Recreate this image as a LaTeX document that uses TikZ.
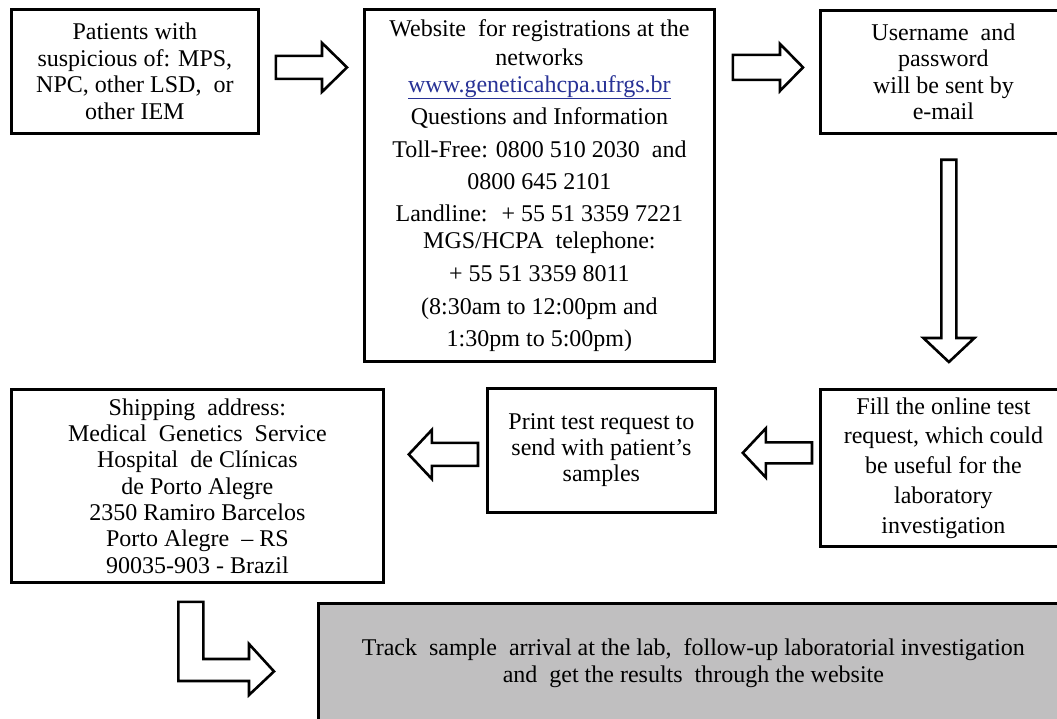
\documentclass[tikz,border=0pt]{standalone}
\usepackage{fontspec}
\setmainfont{Liberation Serif}
\usetikzlibrary{calc}
\definecolor{urlblue}{RGB}{40,50,150}
\definecolor{boxgray}{RGB}{192,191,192}
\newcommand\blockarrow[5]{%
  \path ($(#2)!#5!(#1)$) coordinate (bah);
  \draw[barrow] ($(#1)!#3!90:(#2)$) -- ($(bah)!#3!90:(#2)$) -- ($(bah)!#4!90:(#2)$) -- (#2)
    -- ($(bah)!#4!-90:(#2)$) -- ($(bah)!#3!-90:(#2)$) -- ($(#1)!#3!-90:(#2)$) -- cycle;}
\tikzset{
  box/.style={draw, line width=2.8pt, align=center, inner sep=0pt, anchor=north west},
  barrow/.style={draw, line width=2.6pt, fill=white, line join=miter},
}
\begin{document}
\begin{tikzpicture}[x=1pt,y=-1pt]
\useasboundingbox (0,0) rectangle (1057,719);
\clip (0,0) rectangle (1057,719);
\fill[white] (0,0) rectangle (1057,719);

\node[box, minimum width=247, minimum height=124, font=\fontsize{24}{26.7}\selectfont] (pat) at (10,8)
  {Patients with\\ suspicious of: MPS,\\ NPC, other LSD, \ or\\ other IEM};

\node[box, minimum width=350, minimum height=352, font=\fontsize{24}{23}\selectfont] (web) at (363,8)
  {Website \ for registrations at the\\[6pt]
   networks\\[4pt]
   {\color{urlblue}\underline{www.geneticahcpa.ufrgs.br}}\\[7.7pt]
   Questions and Information\\[9.6pt]
   Toll-Free: 0800 510 2030 \ and\\[9.4pt]
   0800 645 2101\\[8.6pt]
   Landline: \ + 55 51 3359 7221\\[3.7pt]
   MGS/HCPA \ telephone:\\[10.3pt]
   + 55 51 3359 8011\\[10.4pt]
   (8:30am to 12:00pm and\\[8.6pt]
   1:30pm to 5:00pm)};

\node[box, minimum width=246, minimum height=123, font=\fontsize{24}{26.3}\selectfont] (user) at (819,9)
  {Username \ and\\ password\\ will be sent by\\ e-mail};

\node[box, minimum width=246, minimum height=157, font=\fontsize{24}{29.75}\selectfont] (fill) at (819,388)
  {Fill the online test\\ request, which could\\ be useful for the\\ laboratory\\ investigation};

\node[box, minimum width=228, minimum height=124, font=\fontsize{24}{26}\selectfont] (print) at (486,387)
  {Print test request to\\ send with patient's\\ samples};

\node[box, minimum width=372, minimum height=193, font=\fontsize{24}{26.3}\selectfont] (ship) at (10,388)
  {Shipping \ address:\\ Medical \ Genetics \ Service\\ Hospital \ de Clínicas\\ de Porto Alegre\\
   2350 Ramiro Barcelos\\ Porto Alegre \ -- RS\\ 90035-903 - Brazil};

\node[box, fill=boxgray, minimum width=750, minimum height=120, font=\fontsize{24}{27}\selectfont] (track) at (317,602)
  {Track \ sample \ arrival at the lab, \ follow-up laboratorial investigation\\
   and \ get the results \ through the website};

% block arrows
\coordinate (a1s) at ($(pat.east)+(16,-4)$);
\coordinate (a1e) at ($(web.west |- a1s)+(-16,0)$);
\blockarrow{a1s}{a1e}{11.5pt}{24.5pt}{25pt}

\coordinate (a2s) at ($(web.east |- a1s)+(17,0)$);
\coordinate (a2e) at ($(user.west |- a1s)+(-16,0)$);
\blockarrow{a2s}{a2e}{12.5pt}{23.5pt}{23pt}

\coordinate (a3s) at ($(user.south)+(5.5,25)$);
\coordinate (a3e) at ($(fill.north -| a3s)+(0,-26)$);
\blockarrow{a3s}{a3e}{7.5pt}{25.5pt}{24pt}

\coordinate (a4s) at ($(fill.west)+(-7,-15)$);
\coordinate (a4e) at ($(print.east |- a4s)+(26,0)$);
\blockarrow{a4s}{a4e}{10.5pt}{24.5pt}{23pt}

\coordinate (a5s) at ($(print.west)+(-8,4)$);
\coordinate (a5e) at ($(ship.east |- a5s)+(24,0)$);
\blockarrow{a5s}{a5e}{11.5pt}{24.5pt}{23pt}

% bent arrow from shipping box to tracking box
\coordinate (lb) at ($(ship.south)+(-19,18)$);
\coordinate (lt) at ($(track.west)+(-43,8)$);
\draw[barrow] (lb) -- (lb |- 0,681) -- (249,681) -- (249,695) -- (lt) -- (249,644) -- (249,659)
  -- ($(lb |- 0,659)+(25,0)$) -- ($(lb)+(25,0)$) -- cycle;
\end{tikzpicture}
\end{document}
